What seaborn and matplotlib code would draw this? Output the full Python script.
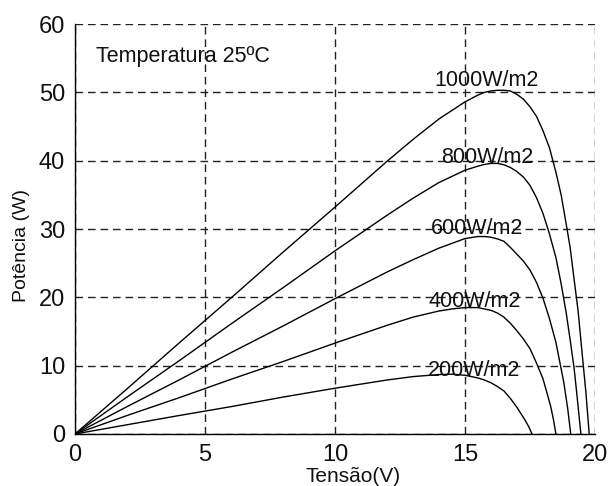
import pandas as pd
import matplotlib
matplotlib.use("Agg")
import matplotlib.pyplot as plt
import seaborn as sns

# curves (voltage V, power W)
v_1000 = [0, 2, 4, 6, 8, 10, 12, 13, 14, 15, 15.5, 15.75, 16, 16.25, 16.5, 16.75, 17, 17.25, 17.5, 17.75,
          18, 18.25, 18.5, 18.7, 18.9, 19.05, 19.2, 19.35, 19.5, 19.65, 19.78]
p_1000 = [0, 6.6, 13.3, 19.9, 26.6, 33.2, 39.9, 43.1, 46.1, 48.6, 49.6, 50.0, 50.2, 50.3, 50.3, 50.2, 49.7, 49.0, 47.9, 46.5,
          44.4, 41.9, 38.3, 35.0, 30.6, 27.2, 22.6, 18.1, 12.1, 6.2, 0]

v_800 = [0, 2, 4, 6, 8, 10, 12, 13, 14, 15, 15.5, 15.75, 16, 16.25, 16.5, 16.75, 17, 17.25, 17.5, 17.75,
         18, 18.25, 18.5, 18.7, 18.9, 19.05, 19.2, 19.3, 19.46]
p_800 = [0, 5.4, 10.7, 16.1, 21.4, 26.8, 32.0, 34.5, 36.8, 38.6, 39.2, 39.45, 39.6, 39.6, 39.4, 39.0, 38.4, 37.6, 36.4, 34.6,
         32.3, 29.3, 25.8, 22.0, 17.6, 13.7, 9.6, 6.0, 0]

v_600 = [0, 2, 4, 6, 8, 10, 12, 13, 14, 15, 15.5, 15.75, 16, 16.25, 16.5, 16.75, 17, 17.25, 17.5, 17.75,
         18, 18.25, 18.5, 18.65, 18.8, 18.95, 19.07]
p_600 = [0, 4.0, 7.9, 11.9, 15.8, 19.8, 23.7, 25.5, 27.2, 28.6, 28.9, 28.9, 28.8, 28.55, 28.2, 27.3, 26.3, 25.3, 24.0, 22.2,
         19.9, 16.9, 13.4, 10.5, 7.6, 3.8, 0]

v_400 = [0, 2, 4, 6, 8, 10, 12, 13, 14, 14.5, 15, 15.5, 16, 16.25, 16.5, 16.75, 17, 17.25, 17.5, 17.75,
         18, 18.15, 18.3, 18.4, 18.5]
p_400 = [0, 2.7, 5.3, 8.0, 10.6, 13.3, 15.9, 17.1, 18.0, 18.3, 18.5, 18.5, 18.1, 17.7, 17.1, 16.2, 15.1, 13.9, 12.5, 10.4,
         8.1, 6.1, 4.0, 2.2, 0]

v_200 = [0, 2, 4, 6, 8, 10, 12, 13, 14, 14.5, 15, 15.5, 15.75, 16, 16.25, 16.5, 16.75, 17, 17.15, 17.3, 17.45, 17.58]
p_200 = [0, 1.35, 2.7, 4.0, 5.4, 6.7, 7.9, 8.4, 8.7, 8.75, 8.6, 8.2, 7.9, 7.5, 6.95, 6.3, 5.2, 3.9, 3.0, 2.1, 1.1, 0]

labels = ["1000W/m2", "800W/m2", "600W/m2", "400W/m2", "200W/m2"]
label_x = [15.83, 15.87, 15.47, 15.37, 15.37]
label_y = [50.9, 39.6, 29.3, 18.65, 8.45]

curves = [(v_1000, p_1000), (v_800, p_800), (v_600, p_600), (v_400, p_400), (v_200, p_200)]
rows = []
for lab, (vv, pp) in zip(labels, curves):
    for a, b in zip(vv, pp):
        rows.append({"curve": lab, "V": a, "P": b})
df = pd.DataFrame(rows)

sns.set_theme(style="white")
plt.rcParams["font.family"] = ["Liberation Sans", "DejaVu Sans"]

fig = plt.figure(figsize=(6.11, 4.86), dpi=100)
ax = fig.add_axes([0.1227, 0.107, 0.851, 0.8436])

sns.lineplot(data=df, x="V", y="P", hue="curve", palette=["black"] * 5,
             estimator=None, sort=False, legend=False, linewidth=1.0, ax=ax)

for lab, x, y in zip(labels, label_x, label_y):
    ax.text(x, y, lab, ha="center", va="baseline", fontsize=15.5, color="#111111")

ax.text(0.8, 54.5, "Temperatura 25ºC", ha="left", va="baseline", fontsize=15.5, color="#111111")

ax.set_xlim(0, 20)
ax.set_ylim(0, 60)
ax.set_xticks([0, 5, 10, 15, 20])
ax.set_yticks([0, 10, 20, 30, 40, 50, 60])
ax.grid(True, color="#222222", linestyle=(0, (5.5, 3.5)), linewidth=1.0)
ax.tick_params(direction="in", length=4, labelsize=17, colors="#111111", pad=7)
for s in ["top", "right"]:
    ax.spines[s].set_visible(False)
for s in ["left", "bottom"]:
    ax.spines[s].set_color("black")
    ax.spines[s].set_linewidth(1.0)

ax.set_xlabel("Tensão(V)", fontsize=15, color="#111111")
ax.set_ylabel("Potência (W)", fontsize=14, color="#111111")
ax.xaxis.set_label_coords(0.535, -0.08)
ax.yaxis.set_label_coords(-0.087, 0.46)

fig.savefig("out.png", dpi=100, facecolor="white")
